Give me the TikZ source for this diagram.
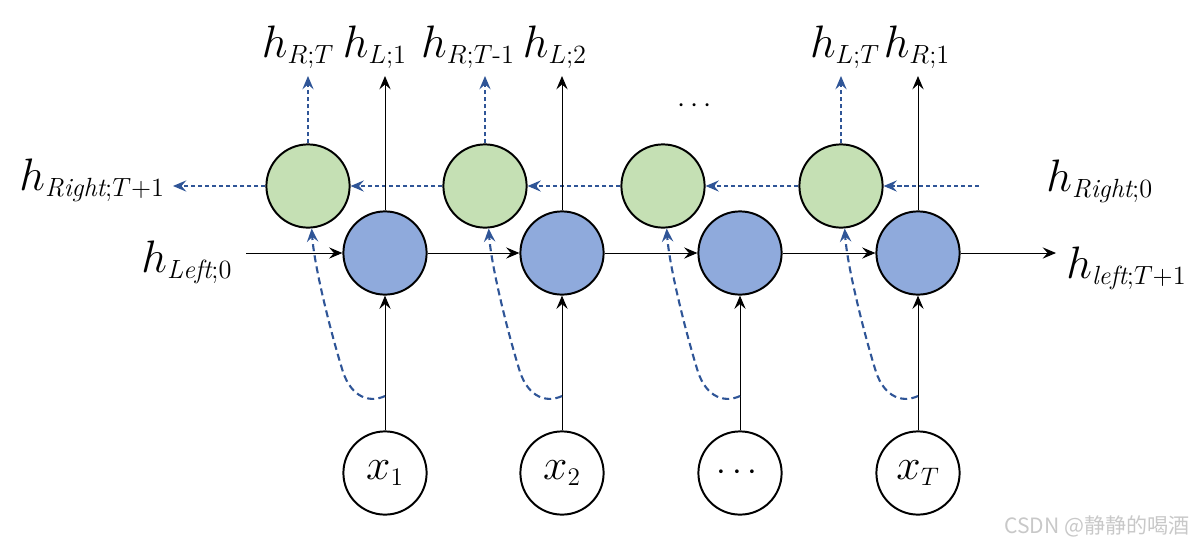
\documentclass[tikz,border=0pt]{standalone}
\usepackage{amsmath}
\usepackage{fontspec}
\newfontfamily\cjk{Noto Sans CJK SC}
\usetikzlibrary{arrows.meta}
\DeclareMathSizes{24.88}{24.88}{14.4}{12}
\definecolor{gfill}{RGB}{197,224,180}
\definecolor{bfill}{RGB}{143,170,220}
\definecolor{dblue}{RGB}{47,85,151}
\definecolor{wmark}{RGB}{200,200,200}
\begin{document}
\begin{tikzpicture}[x=0.025cm,y=-0.025cm,
  cell/.style={circle, draw=black, line width=1.4pt, minimum size=2.08cm, inner sep=0pt},
  gcell/.style={cell, fill=gfill},
  bcell/.style={cell, fill=bfill},
  incell/.style={cell, fill=white, font=\fontsize{24.88}{30}\selectfont},
  tip/.style={-{Stealth[length=9.5pt,width=8pt,inset=3.5pt]}},
  blk/.style={draw=black, line width=0.7pt, tip},
  bdash/.style={draw=dblue, line width=0.8pt, dash pattern=on 3pt off 2pt, tip},
  bcurve/.style={draw=dblue, line width=1.5pt, dash pattern=on 5pt off 3pt, tip},
  lbl/.style={font=\fontsize{24.88}{30}\selectfont, inner sep=0pt, scale=1.3},
  dots/.style={font=\fontsize{20.74}{26}\selectfont, inner sep=0pt}]
\useasboundingbox (0,0) rectangle (1195,548);

% cells
\foreach \i/\gx/\bx in {1/308/385, 2/485/562, 3/663/740, 4/841/918}{
  \node[gcell] (g\i) at (\gx,186) {};
  \node[bcell] (b\i) at (\bx,253) {};
  \coordinate (tg\i) at (\gx,76);
  \coordinate (tb\i) at (\bx,76);
  \coordinate (c\i) at (\bx,396);
}
\node[incell] (x1) at (385,473) {\scalebox{1.25}{$x_1$}};
\node[incell] (x2) at (562,473) {\scalebox{1.25}{$x_2$}};
\node[incell] (x3) at (740,473) {$\cdots$};
\node[incell] (x4) at (918,473) {\scalebox{1.25}{$x_T$}};

% free ends
\coordinate (rin) at (979,186);
\coordinate (rout) at (173,186);
\coordinate (lin) at (246,253);
\coordinate (lout) at (1056,253);

% right-to-left dashed chain
\draw[bdash] (rin) -- (g4);
\draw[bdash] (g4) -- (g3);
\draw[bdash] (g3) -- (g2);
\draw[bdash] (g2) -- (g1);
\draw[bdash] (g1) -- (rout);

% left-to-right chain
\draw[blk] (lin) -- (b1);
\draw[blk] (b1) -- (b2);
\draw[blk] (b2) -- (b3);
\draw[blk] (b3) -- (b4);
\draw[blk] (b4) -- (lout);

% outputs (column 3 has none)
\foreach \i in {1,2,4}{
  \draw[bdash] (g\i) -- (tg\i);
  \draw[blk] (b\i) -- (tb\i);
}

% inputs and skip curves
\foreach \i/\gx/\bx in {1/308/385, 2/485/562, 3/663/740, 4/841/918}{
  \draw[blk] (x\i) -- (b\i);
  \draw[bcurve] (c\i) .. controls ({\bx-15},403) and ({\bx-33},398) .. ({\bx-42},372)
     .. controls ({\bx-55},330) and ({\gx+6},265) .. (g\i.-85);
}

% labels
\node[lbl, anchor=base] (lrt) at (298,57) {$h_{R;T}$};
\node[lbl, anchor=base] (ll1) at (375,57) {$h_{L;1}$};
\node[lbl, anchor=base] (lrt1) at (468,57) {$h_{R;T\text{-}1}$};
\node[lbl, anchor=base] (ll2) at (555,57) {$h_{L;2}$};
\node[lbl, anchor=base] (llt) at (845,57) {$h_{L;T}$};
\node[lbl, anchor=base] (lr1) at (917,57) {$h_{R;1}$};
\node[dots] (tdots) at (697,106) {$\cdots$};
\node[lbl, anchor=base west] (lrT) at (19,190) {$h_{\mathit{Right};T+1}$};
\node[lbl, anchor=base west] (lr0) at (1046,191) {$h_{\mathit{Right};0}$};
\node[lbl, anchor=base west] (ll0) at (141,272) {$h_{\mathit{Left};0}$};
\node[lbl, anchor=base west] (llT) at (1066,278) {$h_{\mathit{left};T+1}$};

% watermark
\node[anchor=base east, inner sep=0pt, text=wmark, font=\cjk\fontsize{15}{18}\selectfont] (wm) at (1190,533) {CSDN @静静的喝酒};
\end{tikzpicture}
\end{document}
